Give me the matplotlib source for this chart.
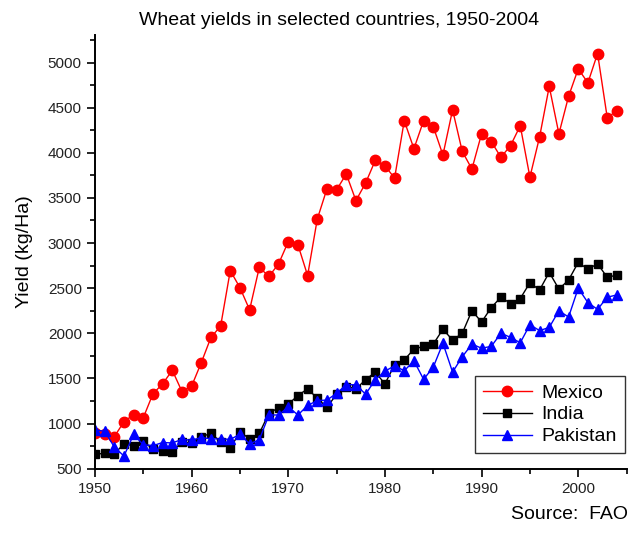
import numpy as np
import matplotlib
matplotlib.use("Agg")
import matplotlib.pyplot as plt
from matplotlib.ticker import MultipleLocator

plt.rcParams["font.family"] = ["Liberation Sans", "DejaVu Sans"]

years = np.arange(1950, 2005)

mexico = [900, 880, 855, 1020, 1100, 1065, 1330, 1440, 1590, 1355,
          1415, 1675, 1955, 2080, 2695, 2505, 2260, 2730, 2630, 2770,
          3015, 2980, 2640, 3265, 3600, 3590, 3765, 3470, 3665, 3915,
          3855, 3720, 4355, 4045, 4355, 4290, 3975, 4475, 4015, 3820,
          4210, 4125, 3950, 4080, 4300, 3730, 4175, 4735, 4210, 4625,
          4930, 4775, 5100, 4390, 4465]

india = [660, 670, 665, 775, 755, 805, 715, 700, 690, 795,
         780, 855, 890, 800, 725, 910, 830, 890, 1115, 1175,
         1215, 1310, 1385, 1280, 1180, 1325, 1410, 1385, 1485, 1570,
         1440, 1650, 1705, 1825, 1855, 1880, 2045, 1925, 2000, 2250,
         2125, 2285, 2400, 2330, 2385, 2560, 2480, 2675, 2490, 2590,
         2785, 2710, 2770, 2620, 2645]

pakistan = [930, 915, 740, 640, 880, 765, 755, 790, 785, 825,
            815, 845, 830, 830, 825, 880, 775, 820, 1095, 1095,
            1185, 1095, 1200, 1255, 1260, 1335, 1430, 1430, 1325, 1485,
            1580, 1640, 1585, 1695, 1490, 1625, 1890, 1570, 1740, 1880,
            1835, 1855, 2000, 1955, 1895, 2095, 2030, 2065, 2250, 2180,
            2500, 2340, 2265, 2400, 2425]

fig = plt.figure(figsize=(6.4, 5.36), dpi=100)
ax = fig.add_axes([0.1484, 0.1256, 0.8306, 0.8091])

ax.plot(years, mexico, color="#ff0000", lw=1, marker="o", ms=7.5,
        mec="#ff0000", mfc="#ff0000", label="Mexico")
ax.plot(years, india, color="black", lw=1, marker="s", ms=6,
        label="India")
ax.plot(years, pakistan, color="#0000ff", lw=1, marker="^", ms=7.5,
        label="Pakistan")

ax.set_xlim(1950, 2005)
ax.set_ylim(500, 5305)
ax.xaxis.set_major_locator(MultipleLocator(10))
ax.xaxis.set_minor_locator(MultipleLocator(5))
ax.yaxis.set_major_locator(MultipleLocator(500))
ax.yaxis.set_minor_locator(MultipleLocator(250))
ax.tick_params(which="major", direction="out", length=6, width=1.2,
               labelsize=11, labelcolor="#222222")
ax.tick_params(which="minor", direction="out", length=3.5, width=1.2)
for s in ["top", "right"]:
    ax.spines[s].set_visible(False)
for s in ["left", "bottom"]:
    ax.spines[s].set_linewidth(1.4)

ax.set_ylabel("Yield (kg/Ha)", fontsize=14)
ax.yaxis.set_label_coords(-0.117, 0.5)

# title sits a bit left of the axes centre in the original
fig.text(0.53, 0.962, "Wheat yields in selected countries, 1950-2004",
         ha="center", va="center", fontsize=14)

leg = ax.legend(loc="lower right", bbox_to_anchor=(0.997, 0.035), borderaxespad=0,
                fontsize=14, frameon=True, fancybox=False, edgecolor="black",
                handlelength=2.5, numpoints=1, handletextpad=0.5,
                labelspacing=0.22, borderpad=0.42)
leg.get_frame().set_linewidth(1.0)

fig.text(0.982, 0.04, "Source:  FAO", ha="right", va="center", fontsize=14)

fig.savefig("out.png", dpi=100)
